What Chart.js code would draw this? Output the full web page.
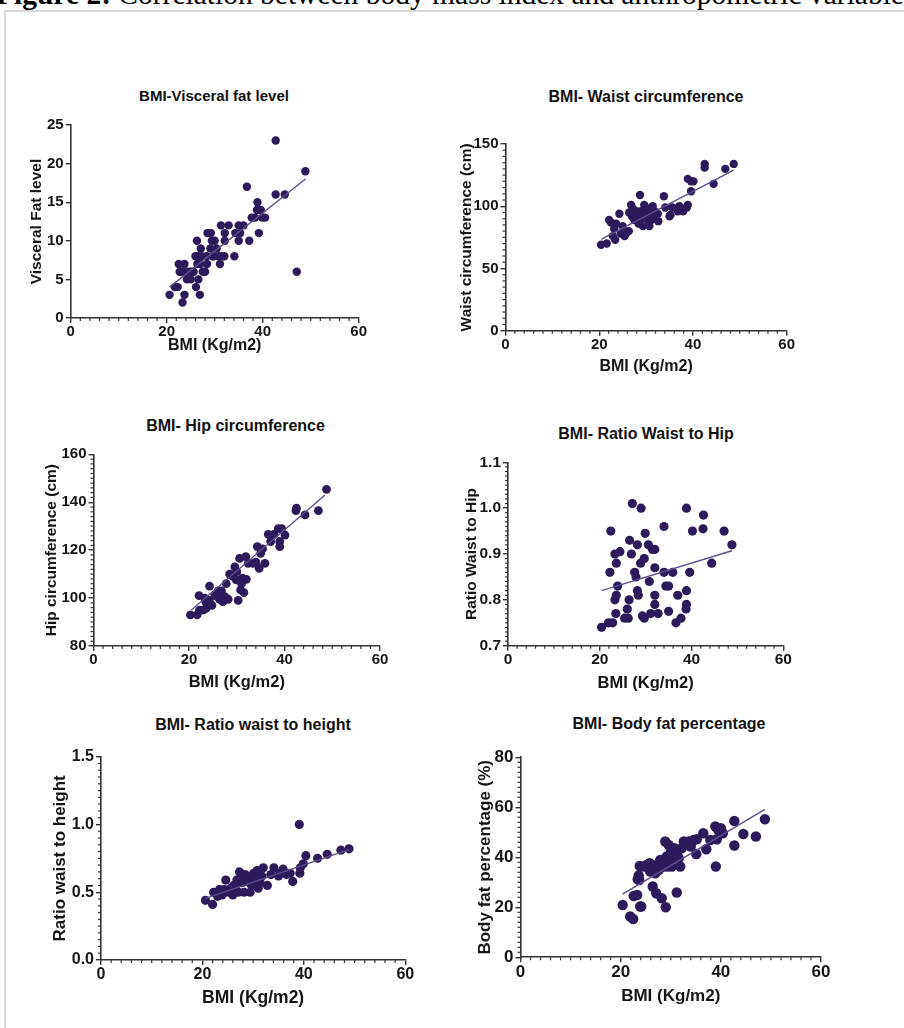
<!DOCTYPE html>
<html><head><meta charset="utf-8">
<script src="https://cdn.jsdelivr.net/npm/chart.js@4.4.0/dist/chart.umd.min.js"></script>
<style>
html,body{margin:0;padding:0;background:#fff;}
body{width:904px;height:1028px;overflow:hidden;position:relative;font-family:"Liberation Sans",Arial,sans-serif;}
#caption{position:absolute;left:-4px;top:-21px;font-family:"Liberation Serif","Times New Roman",serif;font-size:29.5px;line-height:30px;white-space:nowrap;color:#000;}
#frame{position:absolute;left:4px;top:10px;width:1000px;height:1100px;border-top:2px solid #d8d8d8;border-left:2px solid #d8d8d8;}
.ptitle{position:absolute;transform:translate(-50%,-50%);white-space:nowrap;font-weight:bold;color:#111;}
canvas{position:absolute;}
</style></head><body>
<div id="caption"><b>Figure 2:</b> Correlation between body mass index and anthropometric variables</div>
<div id="frame"></div>
<script>
// ---------- tick values / labels ----------
const xTickValues = [0, 20, 40, 60];
const xTickLabels = ['0', '20', '40', '60'];
const visceralTicks = [0, 5, 10, 15, 20, 25];
const visceralTickLabels = ['0', '5', '10', '15', '20', '25'];
const waistTicks = [0, 50, 100, 150];
const waistTickLabels = ['0', '50', '100', '150'];
const hipTicks = [80, 100, 120, 140, 160];
const hipTickLabels = ['80', '100', '120', '140', '160'];
const whrTicks = [0.7, 0.8, 0.9, 1.0, 1.1];
const whrTickLabels = ['0.7', '0.8', '0.9', '1.0', '1.1'];
const whtTicks = [0, 0.5, 1.0, 1.5];
const whtTickLabels = ['0.0', '0.5', '1.0', '1.5'];
const bfTicks = [0, 20, 40, 60, 80];
const bfTickLabels = ['0', '20', '40', '60', '80'];

// ---------- panel 1: BMI - visceral fat level ----------
const visceralBmi = [20.6,21.7,22.3,22.5,22.7,23.7,23.5,23.7,23.3,24.2,24.6,25.0,25.6,26.3,26.0,26.6,26.1,26.6,26.9,27.1,27.3,27.0,28.0,28.4,28.5,29.2,29.1,29.4,30.0,29.6,30.4,30.8,31.1,31.3,32.0,32.1,32.1,32.9,34.1,34.3,35.0,35.0,35.3,36.0,36.7,37.2,37.7,38.8,38.9,38.4,39.2,39.6,39.9,40.5,42.7,42.7,44.6,47.1,48.9,23.0,24.0,25.2,27.5,28.3,29.8,31.6,26.4,22.9];
const visceralLevel = [3,4,4,7,6,7,6,3,2,5,6,5,6,10,8,8,4,5,3,9,8,7,6,7,11,11,9,10,10,8,9,8,7,12,8,11,10,12,8,11,12,10,11,12,17,10,13,14,15,13,11,14,13,13,23,16,16,6,19,6,6,6,6,8,8,8,7,6];
const visceralFitBmi = [20.6, 48.9];
const visceralFit = [4.0, 18.0];

// ---------- panel 2: BMI - waist circumference ----------
const waistBmi = [20.4,21.6,22.1,22.5,22.9,23.2,23.6,23.4,24.3,24.6,25.4,25.7,26.3,26.4,26.8,27.0,27.5,27.9,28.4,28.7,28.9,29.3,29.6,29.9,30.1,30.4,30.7,31.1,31.4,32.0,31.8,32.6,33.8,34.1,35.0,35.6,36.8,37.1,37.9,38.7,38.9,38.9,39.6,39.6,40.1,42.5,42.5,44.4,46.9,48.7,25.0,28.6,30.4,32.5,27.2,29.0,31.0,35.2];
const waistCm = [69,70,89,87,76,82,86,73,94,78,76,78,80,95,101,92,89,96,86,109,96,84,101,92,94,98,84,89,100,90,96,88,108,99,92,99,96,100,96,99,101,122,120,112,120,134,131,118,130,134,84,92,89,94,98,90,93,93];
const waistFitBmi = [20.4, 48.7];
const waistFit = [73.4, 129];

// ---------- panel 3: BMI - hip circumference ----------
const hipBmi = [20.3,21.7,22.1,22.2,22.9,23.5,23.6,23.3,24.3,24.2,25.4,26.1,26.4,26.8,27.1,27.5,27.8,28.2,28.5,29.2,29.6,29.9,30.3,30.6,30.8,31.2,31.5,31.9,32.0,32.4,33.4,34.0,34.3,34.7,35.0,35.4,35.9,36.6,37.1,37.8,38.7,39.0,39.0,39.4,40.1,42.4,42.5,44.3,47.1,48.8,26.6,27.3,24.8,30.0,31.0];
const hipCm = [93,93,101,95,95,98.5,95.7,100,105,99,101,103,99.5,103,98.5,100.6,106,99.5,110,109,113,107.6,99,116.6,103.4,108.3,102.3,117.3,107.8,114.5,114.5,115,121.5,112.4,118.7,120.5,114.5,126.6,123.6,126.6,129,121.5,123.6,129,126.3,136.5,137.5,134.7,136.5,145.4,101,100,97,111,106];
const hipFitBmi = [20.5, 48.5];
const hipFit = [95, 143];

// ---------- panel 4: BMI - ratio waist to hip ----------
const whrBmi = [20.4,21.9,22.8,22.4,22.2,23.3,23.6,24.4,23.3,23.6,23.9,23.5,26.0,26.4,25.4,26.2,26.5,26.9,27.1,27.6,27.9,28.2,28.4,28.2,29.0,28.9,29.7,29.3,29.7,29.9,30.6,30.8,31.1,31.5,32.0,32.0,32.0,32.0,32.7,34.0,34.0,34.4,35.0,35.0,35.9,36.6,37.0,37.7,38.9,38.9,38.9,38.8,39.6,40.2,42.6,42.5,44.4,47.1,48.8];
const whrRatio = [0.74,0.75,0.75,0.95,0.86,0.90,0.88,0.905,0.80,0.81,0.83,0.77,0.78,0.80,0.76,0.76,0.93,0.90,1.01,0.86,0.85,0.82,0.81,0.92,1.00,0.88,0.89,0.765,0.76,0.945,0.92,0.84,0.77,0.91,0.91,0.87,0.81,0.79,0.77,0.96,0.86,0.83,0.83,0.775,0.86,0.75,0.81,0.76,1.00,0.82,0.79,0.78,0.86,0.95,0.985,0.955,0.88,0.95,0.92];
const whrFitBmi = [20.4, 48.8];
const whrFit = [0.82, 0.907];

// ---------- panel 5: BMI - ratio waist to height ----------
const whtBmi = [20.6,22.0,22.2,22.9,23.4,23.9,24.3,24.6,25.2,26.0,26.5,26.8,27.1,27.3,27.8,28.2,28.4,29.0,29.4,29.7,30.1,30.3,30.6,31.0,31.4,31.7,32.0,32.8,34.1,35.0,35.3,35.9,36.6,37.3,37.8,39.1,39.2,39.3,39.9,40.4,42.7,44.6,47.3,48.9,23.0,24.0,25.6,26.2,27.5,28.8,29.9,31.2,30.8,33.5];
const whtRatio = [0.44,0.41,0.50,0.49,0.52,0.48,0.52,0.59,0.50,0.48,0.54,0.59,0.50,0.65,0.57,0.50,0.63,0.60,0.50,0.55,0.64,0.61,0.59,0.53,0.57,0.62,0.68,0.55,0.68,0.62,0.64,0.67,0.63,0.64,0.58,1.00,0.64,0.68,0.71,0.77,0.75,0.78,0.81,0.82,0.47,0.50,0.53,0.55,0.60,0.58,0.62,0.60,0.66,0.63];
const whtFitBmi = [20.6, 48.9];
const whtFit = [0.455, 0.815];

// ---------- panel 6: BMI - body fat percentage ----------
const bfBmi = [20.4,21.9,22.5,22.6,23.3,23.4,23.6,23.8,23.9,24.1,23.7,24.6,25.2,25.8,25.9,26.2,26.4,26.9,27.1,27.2,27.6,27.9,28.2,28.6,28.9,29.0,29.2,29.4,29.6,29.9,30.1,30.2,30.6,30.7,31.2,31.2,31.6,31.9,32.2,32.6,33.6,34.0,34.6,35.1,35.2,36.5,37.1,37.9,38.9,39.0,39.2,39.5,40.0,40.4,42.7,42.7,44.5,47.0,48.8];
const bfPct = [20.9,16.3,15.3,24.5,24.9,31.2,32.7,36.5,20.3,20.3,30.9,36.3,36.9,37.6,34.3,36.3,28.3,33.6,25.6,36.9,34.9,38.9,23.6,36.3,46.3,20.0,40.3,36.3,44.9,38.3,42.3,36.3,40.3,43.6,25.9,41.6,39.6,36.3,43.6,46.3,46.3,44.3,46.9,41.3,47.2,49.6,43.2,46.9,52.3,36.3,47.2,50.9,51.6,49.6,54.5,44.7,49.3,48.3,55.2];
const bfFitBmi = [20.4, 48.8];
const bfFit = [25.3, 59.2];

// ---------- styling / layout ----------
const FONT = '"Liberation Sans", Arial, Helvetica, sans-serif';
const DOT = '#2c1a5a';
const LINE = '#5f4f8f';
const AXIS = '#333333';
const TEXT = '#151515';

const panels = [
  {title:'BMI-Visceral fat level', xTitle:'BMI (Kg/m2)', yTitle:'Visceral Fat level',
   xs:visceralBmi, ys:visceralLevel, fx:visceralFitBmi, fy:visceralFit,
   yTicks:visceralTicks, yLabels:visceralTickLabels, yMinor:0, r:4.2,
   L:{pl:70.7,pr:358.7,pt:125,pb:318,ytx:36.7,xty:345.5,tx:214,ty:95,titleFont:15,tickFont:15,axisFont:15.5,xAxisFont:16}},
  {title:'BMI- Waist circumference', xTitle:'BMI (Kg/m2)', yTitle:'Waist circumference (cm)',
   xs:waistBmi, ys:waistCm, fx:waistFitBmi, fy:waistFit,
   yTicks:waistTicks, yLabels:waistTickLabels, yMinor:5, r:4.2,
   L:{pl:505.5,pr:786.7,pt:144,pb:330.7,ytx:466.7,xty:367,tx:646,ty:96.7,titleFont:16,tickFont:15,axisFont:15.5,xAxisFont:16}},
  {title:'BMI- Hip circumference', xTitle:'BMI (Kg/m2)', yTitle:'Hip circumference (cm)',
   xs:hipBmi, ys:hipCm, fx:hipFitBmi, fy:hipFit,
   yTicks:hipTicks, yLabels:hipTickLabels, yMinor:2, r:4.4,
   L:{pl:93.5,pr:380,pt:454.3,pb:646,ytx:51.7,xty:682,tx:235.5,ty:426,titleFont:16,tickFont:15,axisFont:15.5,xAxisFont:16.5}},
  {title:'BMI- Ratio Waist to Hip', xTitle:'BMI (Kg/m2)', yTitle:'Ratio Waist to Hip',
   xs:whrBmi, ys:whrRatio, fx:whrFitBmi, fy:whrFit,
   yTicks:whrTicks, yLabels:whrTickLabels, yMinor:0.01, r:4.6,
   L:{pl:508,pr:783.3,pt:462.3,pb:645.7,ytx:471.7,xty:683,tx:646,ty:434.3,titleFont:16,tickFont:15.5,axisFont:15.5,xAxisFont:16.5}},
  {title:'BMI- Ratio waist to height', xTitle:'BMI (Kg/m2)', yTitle:'Ratio waist to height',
   xs:whtBmi, ys:whtRatio, fx:whtFitBmi, fy:whtFit,
   yTicks:whtTicks, yLabels:whtTickLabels, yMinor:0.05, r:4.6,
   L:{pl:101,pr:405.3,pt:756.7,pb:960,ytx:60,xty:998,tx:253,ty:725,titleFont:16,tickFont:16,axisFont:17,xAxisFont:17.5}},
  {title:'BMI- Body fat percentage', xTitle:'BMI (Kg/m2)', yTitle:'Body fat percentage (%)',
   xs:bfBmi, ys:bfPct, fx:bfFitBmi, fy:bfFit,
   yTicks:bfTicks, yLabels:bfTickLabels, yMinor:2, r:5.2,
   L:{pl:520.5,pr:821,pt:757.3,pb:957.3,ytx:485,xty:996,tx:669,ty:724,titleFont:16,tickFont:17,axisFont:17,xAxisFont:17}}
];

function isMajor(v, list){ return list.some(t => Math.abs(t - v) < 1e-7); }

const minorTicks = {
  id:'minorTicks',
  afterDraw(chart, args, opts){
    const ctx = chart.ctx, a = chart.chartArea;
    const xs = chart.scales.x, ys = chart.scales.y;
    ctx.save();
    ctx.strokeStyle = AXIS; ctx.lineWidth = 1.2;
    if (opts.xStep){
      const n = Math.round((xs.max - xs.min)/opts.xStep);
      for (let i=0;i<=n;i++){
        const v = xs.min + i*opts.xStep;
        if (isMajor(v, opts.xMajor)) continue;
        const p = xs.getPixelForValue(v);
        ctx.beginPath(); ctx.moveTo(p, a.bottom); ctx.lineTo(p, a.bottom + 3); ctx.stroke();
      }
    }
    if (opts.yStep){
      const n = Math.round((ys.max - ys.min)/opts.yStep);
      for (let i=0;i<=n;i++){
        const v = ys.min + i*opts.yStep;
        if (isMajor(v, opts.yMajor)) continue;
        const p = ys.getPixelForValue(v);
        ctx.beginPath(); ctx.moveTo(a.left, p); ctx.lineTo(a.left - 3, p); ctx.stroke();
      }
    }
    ctx.restore();
  }
};

panels.forEach(P => {
  const L = P.L;
  const lhY = L.axisFont * 1.2, lhX = L.xAxisFont * 1.2;
  const scaleLeft = L.ytx - lhY/2;
  const scaleBottom = L.xty + lhX/2;
  const cl = Math.floor(scaleLeft - 4), ct = Math.floor(L.pt - 16);
  const cw = Math.ceil(L.pr + 20 - cl), ch = Math.ceil(scaleBottom + 4 - ct);
  const pad = {left: scaleLeft - cl, top: L.pt - ct, right: cl + cw - L.pr, bottom: ct + ch - scaleBottom};
  const yW = L.pl - scaleLeft, xH = scaleBottom - L.pb;

  const cv = document.createElement('canvas');
  cv.width = cw; cv.height = ch;
  cv.style.left = cl + 'px'; cv.style.top = ct + 'px';
  cv.style.width = cw + 'px'; cv.style.height = ch + 'px';
  document.body.appendChild(cv);

  const t = document.createElement('div');
  t.className = 'ptitle';
  t.textContent = P.title;
  t.style.left = L.tx + 'px'; t.style.top = L.ty + 'px';
  t.style.fontSize = L.titleFont + 'px';
  document.body.appendChild(t);

  const yMin = P.yTicks[0], yMax = P.yTicks[P.yTicks.length-1];
  const tickFont = {family:FONT, size:L.tickFont, weight:'bold'};

  new Chart(cv, {
    type:'scatter',
    data:{datasets:[
      {data:P.fx.map((x,i)=>({x:x, y:P.fy[i]})), showLine:true, pointRadius:0,
       borderColor:LINE, borderWidth:1.4, fill:false, order:0},
      {data:P.xs.map((x,i)=>({x:x, y:P.ys[i]})), pointRadius:P.r, pointHoverRadius:P.r,
       backgroundColor:DOT, borderColor:DOT, borderWidth:0, order:1}
    ]},
    options:{
      responsive:false, animation:false, devicePixelRatio:1,
      layout:{padding:pad},
      plugins:{legend:{display:false}, tooltip:{enabled:false}, title:{display:false},
               minorTicks:{xStep:2, xMajor:xTickValues, yStep:P.yMinor, yMajor:P.yTicks}},
      scales:{
        x:{type:'linear', min:0, max:60,
           afterBuildTicks:s => { s.ticks = xTickValues.map(v=>({value:v})); },
           afterFit:s => { s.height = xH; },
           ticks:{callback:(v,i)=>xTickLabels[i], font:tickFont, color:TEXT, padding:0, autoSkip:false, maxRotation:0, minRotation:0},
           grid:{drawOnChartArea:false, drawTicks:true, tickLength:5, color:AXIS, lineWidth:1.4},
           border:{display:true, color:AXIS, width:1.6},
           title:{display:true, text:P.xTitle, font:{family:FONT, size:L.xAxisFont, weight:'bold'}, color:TEXT, padding:0}},
        y:{type:'linear', min:yMin, max:yMax,
           afterBuildTicks:s => { s.ticks = P.yTicks.map(v=>({value:v})); },
           afterFit:s => { s.width = yW; },
           ticks:{callback:(v,i)=>P.yLabels[i], font:tickFont, color:TEXT, padding:2, autoSkip:false},
           grid:{drawOnChartArea:false, drawTicks:true, tickLength:5, color:AXIS, lineWidth:1.4},
           border:{display:true, color:AXIS, width:1.6},
           title:{display:true, text:P.yTitle, font:{family:FONT, size:L.axisFont, weight:'bold'}, color:TEXT, padding:0}}
      }
    },
    plugins:[minorTicks]
  });
});
</script>
</body></html>
